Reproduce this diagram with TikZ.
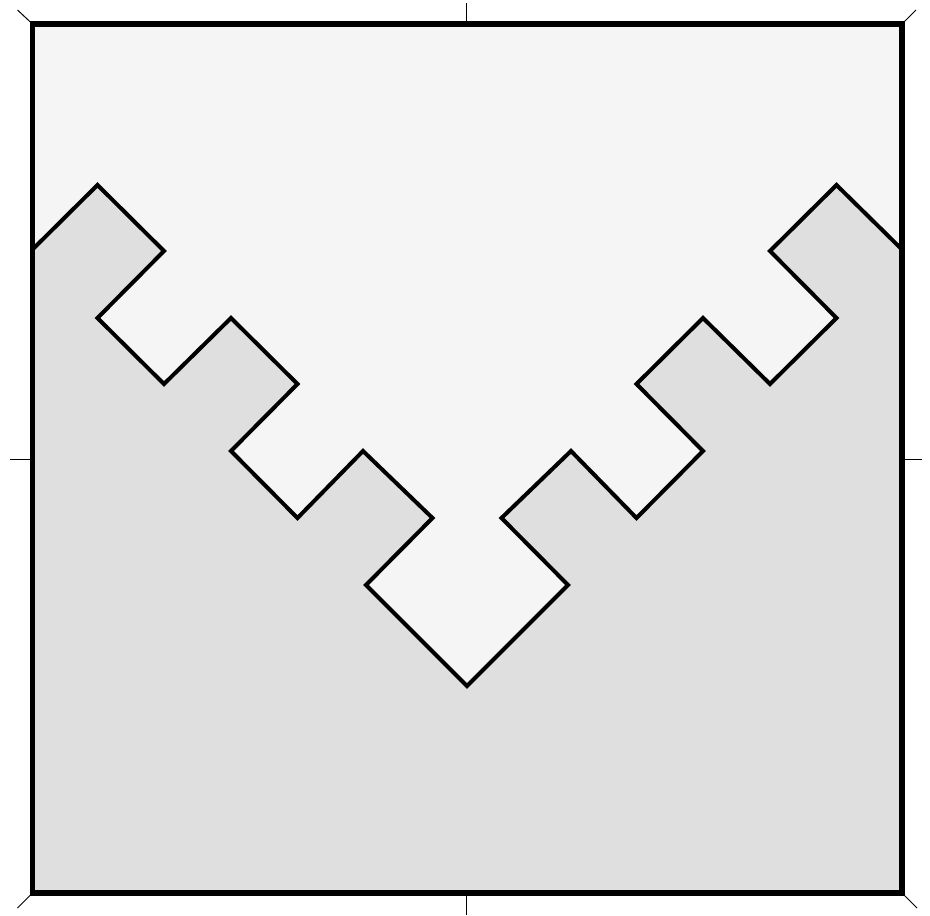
\documentclass[tikz,border=0pt]{standalone}
\definecolor{lightfill}{HTML}{F5F5F5}
\definecolor{darkfill}{HTML}{DFDFDF}
\tikzset{
  frame/.style={line width=5.5pt, line join=miter},
  zig/.style={line width=4pt, line join=miter},
  tick/.style={line width=1pt}
}
\begin{document}
\begin{tikzpicture}[x=1pt,y=-1pt]
\useasboundingbox (0,0) rectangle (930,916);
% corners of the frame
\coordinate (TL) at (32.5,24);
\coordinate (TR) at (902,24);
\coordinate (BR) at (902,893);
\coordinate (BL) at (32.5,893);
% zigzag points
\coordinate (P0) at (32.5,249.5);
\coordinate (P1) at (97.5,185);
\coordinate (P2) at (164,251);
\coordinate (P3) at (97.5,318);
\coordinate (P4) at (164,384);
\coordinate (P5) at (231,318);
\coordinate (P6) at (297.5,384);
\coordinate (P7) at (231,451);
\coordinate (P8) at (297.5,518);
\coordinate (P9) at (363,451);
\coordinate (P10) at (432.5,518);
\coordinate (P11) at (366,585);
\coordinate (P12) at (467,686);
\coordinate (Q11) at (568,585);
\coordinate (Q10) at (501.5,518);
\coordinate (Q9) at (571,451);
\coordinate (Q8) at (636.5,518);
\coordinate (Q7) at (703,451);
\coordinate (Q6) at (636.5,384);
\coordinate (Q5) at (703,318);
\coordinate (Q4) at (770,384);
\coordinate (Q3) at (836.5,318);
\coordinate (Q2) at (770,251);
\coordinate (Q1) at (836.5,185);
\coordinate (Q0) at (902,249.5);
\def\zigpath{(P0) -- (P1) -- (P2) -- (P3) -- (P4) -- (P5) -- (P6) -- (P7) -- (P8) -- (P9) -- (P10) -- (P11) -- (P12) -- (Q11) -- (Q10) -- (Q9) -- (Q8) -- (Q7) -- (Q6) -- (Q5) -- (Q4) -- (Q3) -- (Q2) -- (Q1) -- (Q0)}
% fills
\fill[lightfill] (TL) rectangle (BR);
\fill[darkfill] \zigpath -- (BR) -- (BL) -- cycle;
% zigzag line
\draw[zig] \zigpath;
% ticks
\draw[tick] (466,3) -- (466,24);
\draw[tick] (466,893) -- (466,915);
\draw[tick] (10,459.5) -- (32.5,459.5);
\draw[tick] (902,459.5) -- (922,459.5);
\draw[tick] (TL) -- ++(-15,-14);
\draw[tick] (TR) -- ++(14,-14);
\draw[tick] (BR) -- ++(15,15);
\draw[tick] (BL) -- ++(-15,15);
% frame
\draw[frame] (TL) rectangle (BR);
\end{tikzpicture}
\end{document}
